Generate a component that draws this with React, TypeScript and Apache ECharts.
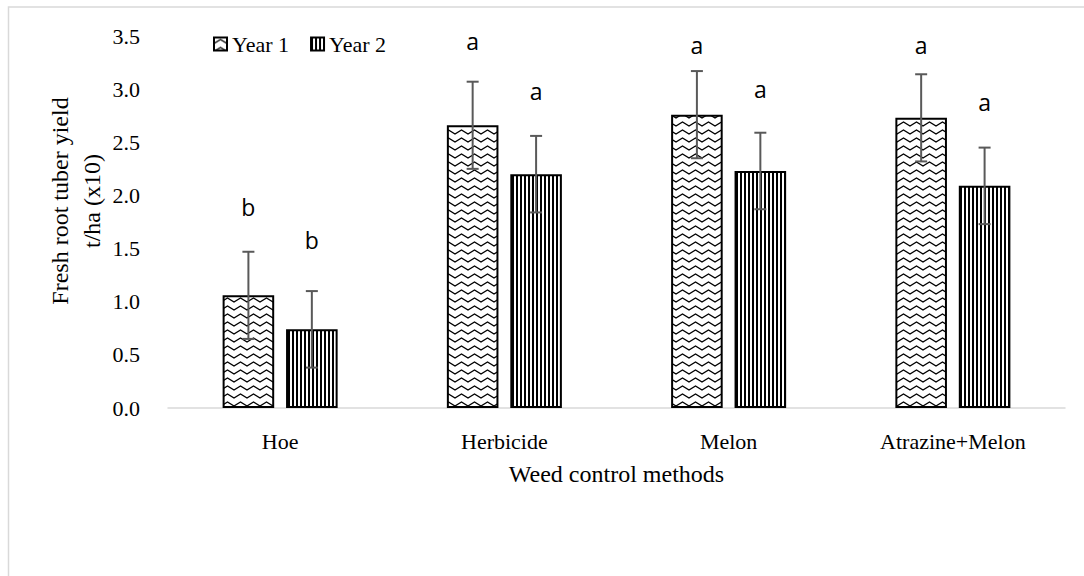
import React, { useEffect, useRef } from "react";
import * as echarts from "echarts";

const categories = ["Hoe", "Herbicide", "Melon", "Atrazine+Melon"];
const seriesNames = ["Year 1", "Year 2"];
const year1 = [1.06, 2.66, 2.76, 2.73];
const year2 = [0.74, 2.2, 2.23, 2.09];
const year1Err = [0.41, 0.41, 0.41, 0.41];
const year2Err = [0.36, 0.36, 0.36, 0.36];
const year1Letters = ["b", "a", "a", "a"];
const year2Letters = ["b", "a", "a", "a"];
const year1LetterAt = [1.89, 3.45, 3.42, 3.42];
const year2LetterAt = [1.58, 2.98, 3.0, 2.88];
const yTicks = [0, 0.5, 1, 1.5, 2, 2.5, 3, 3.5];

const SERIF = "'Liberation Serif', 'Times New Roman', serif";
const SANS = "'Open Sans', 'Noto Sans', sans-serif";
const BAR_W = 0.23;
const BAR_GAP = 0.23;

function makeZigzag(): HTMLCanvasElement {
  const c = document.createElement("canvas");
  c.width = 13;
  c.height = 8;
  const ctx = c.getContext("2d")!;
  ctx.fillStyle = "#fff";
  ctx.fillRect(0, 0, 13, 8);
  ctx.strokeStyle = "#000";
  ctx.lineWidth = 1.4;
  ctx.beginPath();
  ctx.moveTo(-3.25, 3.5);
  ctx.lineTo(0, 6);
  ctx.lineTo(6.5, 2);
  ctx.lineTo(13, 6);
  ctx.lineTo(16.25, 3.5);
  ctx.stroke();
  return c;
}

function makeStripes(): HTMLCanvasElement {
  const c = document.createElement("canvas");
  c.width = 4;
  c.height = 4;
  const ctx = c.getContext("2d")!;
  ctx.fillStyle = "#fff";
  ctx.fillRect(0, 0, 4, 4);
  ctx.fillStyle = "#000";
  ctx.fillRect(0, 0, 2, 4);
  return c;
}

export default function App() {
  const ref = useRef<HTMLDivElement>(null);
  useEffect(() => {
    if (!ref.current) return;
    const chart = echarts.init(ref.current, null, { renderer: "svg" });
    const zig = makeZigzag();
    const str = makeStripes();
    const patterns: any[] = [
      { image: zig.toDataURL(), repeat: "repeat", imageWidth: 13, imageHeight: 8 },
      { image: str.toDataURL(), repeat: "repeat", imageWidth: 4, imageHeight: 4 },
    ];
    const values = [year1, year2];
    const errs = [year1Err, year2Err];
    const letters = [year1Letters, year2Letters];
    const letterAt = [year1LetterAt, year2LetterAt];

    const barSeries = values.map((vals, si) => ({
      name: seriesNames[si],
      type: "bar",
      data: vals,
      barWidth: BAR_W * 100 + "%",
      barGap: BAR_GAP * 100 + "%",
      itemStyle: { color: patterns[si], borderColor: "#000", borderWidth: 2 },
      z: 2,
    }));

    const errSeries = values.map((vals, si) => ({
      type: "custom",
      name: "err" + si,
      data: vals.map((v, i) => [i, v, errs[si][i], letterAt[si][i]]),
      z: 5,
      renderItem: (params: any, api: any) => {
        const ci = api.value(0);
        const v = api.value(1);
        const e = api.value(2);
        const ly = api.value(3);
        const band = api.size([1, 0])[0];
        const bw = band * BAR_W;
        const gap = bw * BAR_GAP;
        const off = (si === 0 ? -1 : 1) * (bw + gap) / 2;
        const cx = api.coord([ci, v])[0] + off;
        const yt = api.coord([ci, v + e])[1];
        const yb = api.coord([ci, v - e])[1];
        const yl = api.coord([ci, ly])[1];
        const st = { stroke: "#595959", lineWidth: 2 };
        return {
          type: "group",
          children: [
            { type: "line", shape: { x1: cx, y1: yt, x2: cx, y2: yb }, style: st },
            { type: "line", shape: { x1: cx - 6, y1: yt, x2: cx + 6, y2: yt }, style: st },
            { type: "line", shape: { x1: cx - 6, y1: yb, x2: cx + 6, y2: yb }, style: st },
            {
              type: "text",
              x: cx,
              y: yl,
              style: {
                text: letters[si][params.dataIndex],
                font: "23px " + SANS,
                fill: "#000",
                align: "center",
                verticalAlign: "middle",
              },
            },
          ],
        };
      },
    }));

    chart.setOption({
      animation: false,
      backgroundColor: "#fff",
      grid: { left: 168, right: 19, top: 36, bottom: 168, containLabel: false },
      legend: {
        data: seriesNames,
        left: 213,
        top: 33,
        padding: 0,
        itemWidth: 13,
        itemHeight: 13,
        itemGap: 21,
        icon: "rect",
        textStyle: { fontFamily: SERIF, fontSize: 22, color: "#000" },
      },
      xAxis: {
        type: "category",
        data: categories,
        axisLine: { lineStyle: { color: "#d9d9d9", width: 1.5 } },
        axisTick: { show: false },
        axisLabel: { fontFamily: SERIF, fontSize: 22, color: "#000", margin: 22 },
        name: "Weed control methods",
        nameLocation: "middle",
        nameGap: 54,
        nameTextStyle: { fontFamily: SERIF, fontSize: 24, color: "#000" },
      },
      yAxis: {
        type: "value",
        min: yTicks[0],
        max: yTicks[yTicks.length - 1],
        interval: 0.5,
        axisLine: { show: false },
        axisTick: { show: false },
        splitLine: { show: false },
        axisLabel: {
          fontFamily: SERIF,
          fontSize: 22,
          color: "#000",
          margin: 28,
          formatter: (v: number) => v.toFixed(1),
        },
      },
      graphic: [
        {
          type: "rect",
          shape: { x: 8.5, y: 7, width: 1200, height: 700 },
          style: { fill: "none", stroke: "#d9d9d9", lineWidth: 1.5 },
          silent: true,
        },
        {
          type: "text",
          x: 76,
          y: 201,
          rotation: Math.PI / 2,
          style: {
            text: "Fresh root tuber yield\nt/ha (x10)",
            font: "24px " + SERIF,
            lineHeight: 32,
            fill: "#000",
            align: "center",
            verticalAlign: "middle",
          },
        },
      ],
      series: [...barSeries, ...errSeries],
    });
    return () => chart.dispose();
  }, []);
  return (
    <div
      ref={ref}
      style={{ position: "absolute", left: 0, top: 0, width: 1084, height: 576 }}
    />
  );
}
